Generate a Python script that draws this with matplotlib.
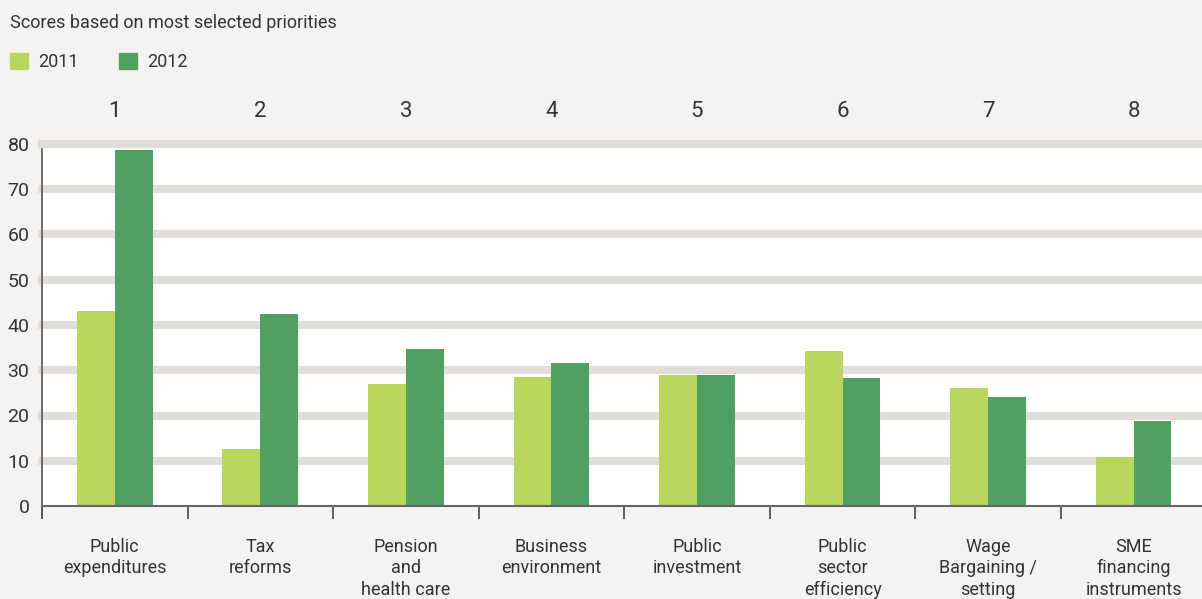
import numpy as np
import matplotlib.pyplot as plt
from matplotlib.patches import Patch

plt.rcParams['font.family'] = ['Roboto', 'DejaVu Sans']

# Data
categories = [
    "Public\nexpenditures",
    "Tax\nreforms",
    "Pension\nand\nhealth care",
    "Business\nenvironment",
    "Public\ninvestment",
    "Public\nsector\nefficiency",
    "Wage\nBargaining /\nsetting",
    "SME\nfinancing\ninstruments",
]
ranks = ["1", "2", "3", "4", "5", "6", "7", "8"]
scores_2011 = [43.2, 12.7, 26.9, 28.6, 28.9, 34.2, 26.0, 10.8]
scores_2012 = [78.7, 42.5, 34.6, 31.5, 28.9, 28.2, 24.0, 18.7]
y_ticks = [0, 10, 20, 30, 40, 50, 60, 70, 80]

BG = "#f4f3f1"
LIGHT = "#b8d65e"
DARK = "#50a062"
GRID = "#e1ddda"
TEXT = "#333333"

fig = plt.figure(figsize=(12.02, 5.99), dpi=100, facecolor=BG)
ax = fig.add_axes([42 / 1202, 93 / 599, 1 - 42 / 1202, (506 - 144) / 599])
ax.set_facecolor("white")

x = np.arange(len(categories))
w = 0.26

# Thick grey gridlines behind the bars
for v in y_ticks[1:]:
    ax.axhline(v, color=GRID, lw=5.8, zorder=0, clip_on=False)

ax.bar(x - w / 2, scores_2011, width=w, color=LIGHT, zorder=2, linewidth=0)
ax.bar(x + w / 2, scores_2012, width=w, color=DARK, zorder=2, linewidth=0)

ax.set_xlim(-0.5, 7.47)
ax.set_ylim(0, 80)

# Spines
for s in ["top", "right"]:
    ax.spines[s].set_visible(False)
ax.spines["left"].set_color("#555555")
ax.spines["left"].set_linewidth(1.2)
ax.spines["left"].set_bounds(-2.5, 79)
ax.spines["bottom"].set_color("#666666")
ax.spines["bottom"].set_linewidth(1.5)

# Y axis
ax.set_yticks(y_ticks)
ax.set_yticklabels([str(v) for v in y_ticks], fontsize=14, color=TEXT)
ax.tick_params(axis="y", length=0, pad=9)

# X axis: separators as major ticks, category names as minor labels
ax.set_xticks(x - 0.5)
ax.set_xticklabels([])
ax.tick_params(axis="x", which="major", length=9, width=1.2, color="#444444", direction="out")
ax.set_xticks(x, minor=True)
ax.set_xticklabels(categories, minor=True, fontsize=13, color=TEXT, linespacing=1.24)
ax.tick_params(axis="x", which="minor", length=0, pad=23)

# Rank numbers above the plot
for xi, r in zip(x, ranks):
    ax.text(xi, 1.091, r, transform=ax.get_xaxis_transform(), ha="center",
            va="center", fontsize=16, color=TEXT)

# Title and legend
fig.text(10 / 1202, 1 - 23 / 599, "Scores based on most selected priorities",
         fontsize=13, color=TEXT, ha="left", va="center")
handles = [Patch(color=LIGHT, label="2011"), Patch(color=DARK, label="2012")]
fig.legend(handles=handles, loc="center left", bbox_to_anchor=(6 / 1202, 1 - 62 / 599),
           ncol=2, frameon=False, fontsize=13, handlelength=1.0, handleheight=1.0,
           handletextpad=0.6, columnspacing=2.2, labelcolor=TEXT,
           borderaxespad=0.0, borderpad=0.2)

fig.savefig("out.png", dpi=100, facecolor=BG)
